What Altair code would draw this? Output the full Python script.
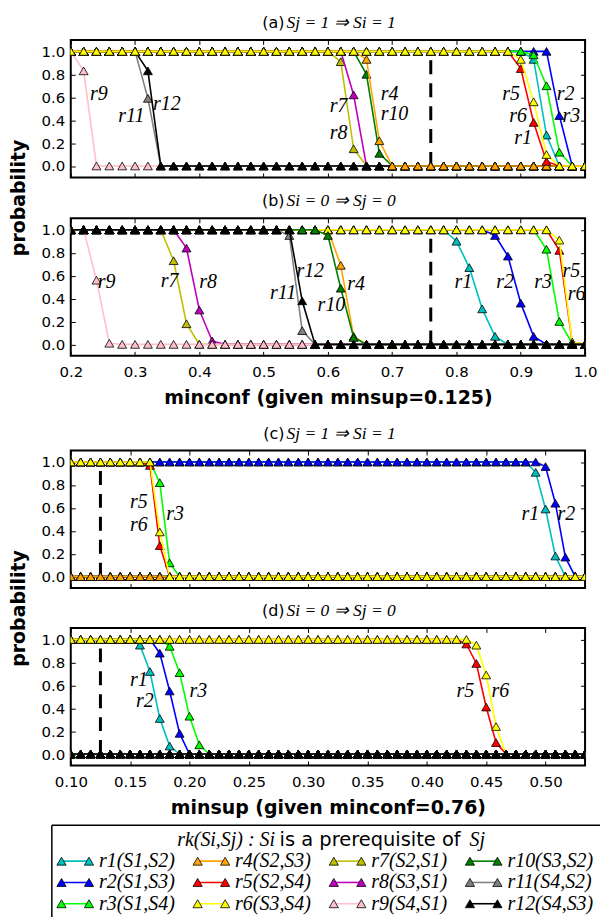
import altair as alt
import pandas as pd

# ---------------- data ----------------
conf_x = [0.20, 0.22, 0.24, 0.26, 0.28, 0.30, 0.32, 0.34, 0.36, 0.38,
          0.40, 0.42, 0.44, 0.46, 0.48, 0.50, 0.52, 0.54, 0.56, 0.58,
          0.60, 0.62, 0.64, 0.66, 0.68, 0.70, 0.72, 0.74, 0.76, 0.78,
          0.80, 0.82, 0.84, 0.86, 0.88, 0.90, 0.92, 0.94, 0.96, 0.98, 1.00]
sup_x = [0.1000, 0.1083, 0.1167, 0.1250, 0.1333, 0.1417, 0.1500, 0.1583, 0.1667, 0.1750,
         0.1833, 0.1917, 0.2000, 0.2083, 0.2167, 0.2250, 0.2333, 0.2417, 0.2500, 0.2583,
         0.2667, 0.2750, 0.2833, 0.2917, 0.3000, 0.3083, 0.3167, 0.3250, 0.3333, 0.3417,
         0.3500, 0.3583, 0.3667, 0.3750, 0.3833, 0.3917, 0.4000, 0.4083, 0.4167, 0.4250,
         0.4333, 0.4417, 0.4500, 0.4583, 0.4667, 0.4750, 0.4833, 0.4917, 0.5000, 0.5083,
         0.5167, 0.5250, 0.5333]

series_names = ["r1", "r2", "r3", "r4", "r5", "r6", "r7", "r8", "r9", "r10", "r11", "r12"]
legend_labels = ["r1(S1,S2)", "r2(S1,S3)", "r3(S1,S4)", "r4(S2,S3)", "r5(S2,S4)", "r6(S3,S4)",
                 "r7(S2,S1)", "r8(S3,S1)", "r9(S4,S1)", "r10(S3,S2)", "r11(S4,S2)", "r12(S4,S3)"]
series_colors = ["#00bfbf", "#0000ff", "#00ff00", "#ffa500", "#ff0000", "#ffff00",
                 "#bfbf00", "#bf00bf", "#ffc0cb", "#008000", "#808080", "#000000"]

# (a) Sj=1 => Si=1, vs minconf
a_r1 = [1, 1, 1, 1, 1, 1, 1, 1, 1, 1, 1, 1, 1, 1, 1, 1, 1, 1, 1, 1,
        1, 1, 1, 1, 1, 1, 1, 1, 1, 1, 1, 1, 1, 1, 1, 1, 0.93, 0.27, 0, 0, 0]
a_r2 = [1, 1, 1, 1, 1, 1, 1, 1, 1, 1, 1, 1, 1, 1, 1, 1, 1, 1, 1, 1,
        1, 1, 1, 1, 1, 1, 1, 1, 1, 1, 1, 1, 1, 1, 1, 1, 1, 1, 0.44, 0, 0]
a_r3 = [1, 1, 1, 1, 1, 1, 1, 1, 1, 1, 1, 1, 1, 1, 1, 1, 1, 1, 1, 1,
        1, 1, 1, 1, 1, 1, 1, 1, 1, 1, 1, 1, 1, 1, 1, 1, 0.97, 0.70, 0.12, 0, 0]
a_r4 = [1, 1, 1, 1, 1, 1, 1, 1, 1, 1, 1, 1, 1, 1, 1, 1, 1, 1, 1, 1,
        1, 1, 1, 0.93, 0.22, 0, 0, 0, 0, 0, 0, 0, 0, 0, 0, 0, 0, 0, 0, 0, 0]
a_r5 = [1, 1, 1, 1, 1, 1, 1, 1, 1, 1, 1, 1, 1, 1, 1, 1, 1, 1, 1, 1,
        1, 1, 1, 1, 1, 1, 1, 1, 1, 1, 1, 1, 1, 1, 1, 0.85, 0.38, 0.04, 0, 0, 0]
a_r6 = [1, 1, 1, 1, 1, 1, 1, 1, 1, 1, 1, 1, 1, 1, 1, 1, 1, 1, 1, 1,
        1, 1, 1, 1, 1, 1, 1, 1, 1, 1, 1, 1, 1, 1, 1, 0.93, 0.56, 0.10, 0, 0, 0]
a_r7 = [1, 1, 1, 1, 1, 1, 1, 1, 1, 1, 1, 1, 1, 1, 1, 1, 1, 1, 1, 1,
        1, 0.91, 0.15, 0, 0, 0, 0, 0, 0, 0, 0, 0, 0, 0, 0, 0, 0, 0, 0, 0, 0]
a_r8 = [1, 1, 1, 1, 1, 1, 1, 1, 1, 1, 1, 1, 1, 1, 1, 1, 1, 1, 1, 1,
        1, 1, 0.62, 0, 0, 0, 0, 0, 0, 0, 0, 0, 0, 0, 0, 0, 0, 0, 0, 0, 0]
a_r9 = [1, 0.83, 0, 0, 0, 0, 0, 0, 0, 0, 0, 0, 0, 0, 0, 0, 0, 0, 0, 0,
        0, 0, 0, 0, 0, 0, 0, 0, 0, 0, 0, 0, 0, 0, 0, 0, 0, 0, 0, 0, 0]
a_r10 = [1, 1, 1, 1, 1, 1, 1, 1, 1, 1, 1, 1, 1, 1, 1, 1, 1, 1, 1, 1,
         1, 1, 1, 0.80, 0.11, 0, 0, 0, 0, 0, 0, 0, 0, 0, 0, 0, 0, 0, 0, 0, 0]
a_r11 = [1, 1, 1, 1, 1, 1, 0.59, 0, 0, 0, 0, 0, 0, 0, 0, 0, 0, 0, 0, 0,
         0, 0, 0, 0, 0, 0, 0, 0, 0, 0, 0, 0, 0, 0, 0, 0, 0, 0, 0, 0, 0]
a_r12 = [1, 1, 1, 1, 1, 1, 0.83, 0, 0, 0, 0, 0, 0, 0, 0, 0, 0, 0, 0, 0,
         0, 0, 0, 0, 0, 0, 0, 0, 0, 0, 0, 0, 0, 0, 0, 0, 0, 0, 0, 0, 0]

# (b) Si=0 => Sj=0, vs minconf
b_r1 = [1, 1, 1, 1, 1, 1, 1, 1, 1, 1, 1, 1, 1, 1, 1, 1, 1, 1, 1, 1,
        1, 1, 1, 1, 1, 1, 1, 1, 1, 1, 0.90, 0.67, 0.31, 0.07, 0, 0, 0, 0, 0, 0, 0]
b_r2 = [1, 1, 1, 1, 1, 1, 1, 1, 1, 1, 1, 1, 1, 1, 1, 1, 1, 1, 1, 1,
        1, 1, 1, 1, 1, 1, 1, 1, 1, 1, 1, 1, 1, 0.95, 0.77, 0.36, 0.07, 0, 0, 0, 0]
b_r3 = [1, 1, 1, 1, 1, 1, 1, 1, 1, 1, 1, 1, 1, 1, 1, 1, 1, 1, 1, 1,
        1, 1, 1, 1, 1, 1, 1, 1, 1, 1, 1, 1, 1, 1, 1, 1, 1, 0.83, 0.20, 0.01, 0]
b_r4 = [1, 1, 1, 1, 1, 1, 1, 1, 1, 1, 1, 1, 1, 1, 1, 1, 1, 1, 1, 1,
        1, 0.69, 0.07, 0, 0, 0, 0, 0, 0, 0, 0, 0, 0, 0, 0, 0, 0, 0, 0, 0, 0]
b_r5 = [1, 1, 1, 1, 1, 1, 1, 1, 1, 1, 1, 1, 1, 1, 1, 1, 1, 1, 1, 1,
        1, 1, 1, 1, 1, 1, 1, 1, 1, 1, 1, 1, 1, 1, 1, 1, 1, 1, 0.82, 0.02, 0]
b_r6 = [1, 1, 1, 1, 1, 1, 1, 1, 1, 1, 1, 1, 1, 1, 1, 1, 1, 1, 1, 1,
        1, 1, 1, 1, 1, 1, 1, 1, 1, 1, 1, 1, 1, 1, 1, 1, 1, 1, 0.91, 0.02, 0]
b_r7 = [1, 1, 1, 1, 1, 1, 1, 1, 0.73, 0.18, 0, 0, 0, 0, 0, 0, 0, 0, 0, 0,
        0, 0, 0, 0, 0, 0, 0, 0, 0, 0, 0, 0, 0, 0, 0, 0, 0, 0, 0, 0, 0]
b_r8 = [1, 1, 1, 1, 1, 1, 1, 1, 1, 0.84, 0.30, 0.03, 0, 0, 0, 0, 0, 0, 0, 0,
        0, 0, 0, 0, 0, 0, 0, 0, 0, 0, 0, 0, 0, 0, 0, 0, 0, 0, 0, 0, 0]
b_r9 = [1, 1, 0.56, 0.01, 0, 0, 0, 0, 0, 0, 0, 0, 0, 0, 0, 0, 0, 0, 0, 0,
        0, 0, 0, 0, 0, 0, 0, 0, 0, 0, 0, 0, 0, 0, 0, 0, 0, 0, 0, 0, 0]
b_r10 = [1, 1, 1, 1, 1, 1, 1, 1, 1, 1, 1, 1, 1, 1, 1, 1, 1, 1, 1, 1,
         0.95, 0.49, 0.06, 0, 0, 0, 0, 0, 0, 0, 0, 0, 0, 0, 0, 0, 0, 0, 0, 0, 0]
b_r11 = [1, 1, 1, 1, 1, 1, 1, 1, 1, 1, 1, 1, 1, 1, 1, 1, 1, 0.95, 0.12, 0,
         0, 0, 0, 0, 0, 0, 0, 0, 0, 0, 0, 0, 0, 0, 0, 0, 0, 0, 0, 0, 0]
b_r12 = [1, 1, 1, 1, 1, 1, 1, 1, 1, 1, 1, 1, 1, 1, 1, 1, 1, 1, 0.38, 0,
         0, 0, 0, 0, 0, 0, 0, 0, 0, 0, 0, 0, 0, 0, 0, 0, 0, 0, 0, 0, 0]

# (c) Sj=1 => Si=1, vs minsup
c_r1 = [1, 1, 1, 1, 1, 1, 1, 1, 1, 1, 1, 1, 1, 1, 1, 1, 1, 1, 1, 1,
        1, 1, 1, 1, 1, 1, 1, 1, 1, 1, 1, 1, 1, 1, 1, 1, 1, 1, 1, 1,
        1, 1, 1, 1, 1, 1, 1, 0.91, 0.59, 0.18, 0, 0, 0]
c_r2 = [1, 1, 1, 1, 1, 1, 1, 1, 1, 1, 1, 1, 1, 1, 1, 1, 1, 1, 1, 1,
        1, 1, 1, 1, 1, 1, 1, 1, 1, 1, 1, 1, 1, 1, 1, 1, 1, 1, 1, 1,
        1, 1, 1, 1, 1, 1, 1, 1, 0.96, 0.64, 0.17, 0, 0]
c_r3 = [1, 1, 1, 1, 1, 1, 1, 1, 1, 0.82, 0.12, 0, 0, 0, 0, 0, 0, 0, 0, 0,
        0, 0, 0, 0, 0, 0, 0, 0, 0, 0, 0, 0, 0, 0, 0, 0, 0, 0, 0, 0,
        0, 0, 0, 0, 0, 0, 0, 0, 0, 0, 0, 0, 0]
c_r5 = [1, 1, 1, 1, 1, 1, 1, 1, 0.97, 0.27, 0, 0, 0, 0, 0, 0, 0, 0, 0, 0,
        0, 0, 0, 0, 0, 0, 0, 0, 0, 0, 0, 0, 0, 0, 0, 0, 0, 0, 0, 0,
        0, 0, 0, 0, 0, 0, 0, 0, 0, 0, 0, 0, 0]
c_r6 = [1, 1, 1, 1, 1, 1, 1, 1, 1, 0.39, 0, 0, 0, 0, 0, 0, 0, 0, 0, 0,
        0, 0, 0, 0, 0, 0, 0, 0, 0, 0, 0, 0, 0, 0, 0, 0, 0, 0, 0, 0,
        0, 0, 0, 0, 0, 0, 0, 0, 0, 0, 0, 0, 0]
sup_flat_zero = [0, 0, 0, 0, 0, 0, 0, 0, 0, 0, 0, 0, 0, 0, 0, 0, 0, 0, 0, 0,
                 0, 0, 0, 0, 0, 0, 0, 0, 0, 0, 0, 0, 0, 0, 0, 0, 0, 0, 0, 0,
                 0, 0, 0, 0, 0, 0, 0, 0, 0, 0, 0, 0, 0]

# (d) Si=0 => Sj=0, vs minsup
d_r1 = [1, 1, 1, 1, 1, 1, 1, 0.95, 0.72, 0.31, 0.07, 0, 0, 0, 0, 0, 0, 0, 0, 0,
        0, 0, 0, 0, 0, 0, 0, 0, 0, 0, 0, 0, 0, 0, 0, 0, 0, 0, 0, 0,
        0, 0, 0, 0, 0, 0, 0, 0, 0, 0, 0, 0, 0]
d_r2 = [1, 1, 1, 1, 1, 1, 1, 1, 1, 0.88, 0.55, 0.18, 0, 0, 0, 0, 0, 0, 0, 0,
        0, 0, 0, 0, 0, 0, 0, 0, 0, 0, 0, 0, 0, 0, 0, 0, 0, 0, 0, 0,
        0, 0, 0, 0, 0, 0, 0, 0, 0, 0, 0, 0, 0]
d_r3 = [1, 1, 1, 1, 1, 1, 1, 1, 1, 1, 0.94, 0.71, 0.33, 0.08, 0, 0, 0, 0, 0, 0,
        0, 0, 0, 0, 0, 0, 0, 0, 0, 0, 0, 0, 0, 0, 0, 0, 0, 0, 0, 0,
        0, 0, 0, 0, 0, 0, 0, 0, 0, 0, 0, 0, 0]
d_r5 = [1, 1, 1, 1, 1, 1, 1, 1, 1, 1, 1, 1, 1, 1, 1, 1, 1, 1, 1, 1,
        1, 1, 1, 1, 1, 1, 1, 1, 1, 1, 1, 1, 1, 1, 1, 1, 1, 1, 1, 1,
        0.96, 0.79, 0.41, 0.10, 0, 0, 0, 0, 0, 0, 0, 0, 0]
d_r6 = [1, 1, 1, 1, 1, 1, 1, 1, 1, 1, 1, 1, 1, 1, 1, 1, 1, 1, 1, 1,
        1, 1, 1, 1, 1, 1, 1, 1, 1, 1, 1, 1, 1, 1, 1, 1, 1, 1, 1, 1,
        1, 0.95, 0.69, 0.24, 0, 0, 0, 0, 0, 0, 0, 0, 0]

panel_a = [a_r1, a_r2, a_r3, a_r4, a_r5, a_r6, a_r7, a_r8, a_r9, a_r10, a_r11, a_r12]
panel_b = [b_r1, b_r2, b_r3, b_r4, b_r5, b_r6, b_r7, b_r8, b_r9, b_r10, b_r11, b_r12]
panel_c = [c_r1, c_r2, c_r3, sup_flat_zero, c_r5, c_r6, sup_flat_zero, sup_flat_zero,
           sup_flat_zero, sup_flat_zero, sup_flat_zero, sup_flat_zero]
panel_d = [d_r1, d_r2, d_r3, sup_flat_zero, d_r5, d_r6, sup_flat_zero, sup_flat_zero,
           sup_flat_zero, sup_flat_zero, sup_flat_zero, sup_flat_zero]

# curve labels (text, x, y in data units)
ann_a_text = ["r9", "r11", "r12", "r7", "r8", "r4", "r10", "r5", "r6", "r1", "r2", "r3"]
ann_a_x = [0.230, 0.274, 0.328, 0.603, 0.603, 0.682, 0.682, 0.871, 0.882, 0.890, 0.956, 0.965]
ann_a_y = [0.63, 0.44, 0.54, 0.52, 0.29, 0.63, 0.45, 0.63, 0.44, 0.24, 0.63, 0.44]
ann_b_text = ["r9", "r7", "r8", "r12", "r11", "r10", "r4", "r1", "r2", "r3", "r5", "r6"]
ann_b_x = [0.242, 0.340, 0.400, 0.551, 0.510, 0.584, 0.630, 0.797, 0.862, 0.921, 0.965, 0.973]
ann_b_y = [0.54, 0.555, 0.54, 0.64, 0.45, 0.34, 0.53, 0.54, 0.54, 0.54, 0.64, 0.44]
ann_c_text = ["r5", "r6", "r3", "r1", "r2"]
ann_c_x = [0.150, 0.150, 0.1804, 0.4797, 0.510]
ann_c_y = [0.65, 0.45, 0.55, 0.55, 0.55]
ann_d_text = ["r1", "r2", "r3", "r5", "r6"]
ann_d_x = [0.150, 0.155, 0.200, 0.425, 0.4545]
ann_d_y = [0.65, 0.46, 0.55, 0.55, 0.55]

conf_ticks = [0.2, 0.3, 0.4, 0.5, 0.6, 0.7, 0.8, 0.9, 1.0]
sup_ticks = [0.10, 0.15, 0.20, 0.25, 0.30, 0.35, 0.40, 0.45, 0.50]
prob_ticks = [0.0, 0.2, 0.4, 0.6, 0.8, 1.0]
minconf_line = [0.76]
minsup_line = [0.125]

# ---------------- drawing ----------------
SANS = "DejaVu Sans"
SERIF = "Liberation Serif"
W, H = 516, 138
order_one = [6, 7, 8, 9, 10, 11, 0, 1, 2, 3, 4, 5]
order_zero = [0, 1, 2, 3, 4, 5, 6, 7, 8, 9, 10, 11]


def make_panel(xv, vals, order, xdom, xticks, xfmt, show_x, xtitle, thr,
               ann_t, ann_x, ann_y, tag, math, ytitle):
    xs = alt.Scale(domain=xdom, nice=False, zero=False)
    ys = alt.Scale(domain=[-0.1, 1.1], nice=False, zero=False)
    thr_df = pd.DataFrame({"t": thr})

    xkw = dict(orient="bottom", values=xticks, format=xfmt, labels=show_x, ticks=False,
               tickSize=0, domain=False, grid=False, labelFont=SANS, labelFontSize=15,
               labelColor="black", labelPadding=9, labelFlush=False, title=None)
    if show_x:
        xkw.update(title=xtitle, titleFont=SANS, titleFontSize=19, titleFontWeight="bold",
                   titleColor="black", titlePadding=9)
    ykw = dict(orient="left", values=prob_ticks, format=".1f", ticks=False, tickSize=0,
               domain=False, grid=False, labelFont=SANS, labelFontSize=15,
               labelColor="black", labelPadding=6, title=None)
    if ytitle:
        ykw.update(title=ytitle, titleFont=SANS, titleFontSize=19, titleFontWeight="bold",
                   titleColor="black", titleX=-52, titleY=158, titleAngle=270,
                   titleAlign="center", titleBaseline="middle")

    layers = [alt.Chart(thr_df).mark_rule(color="black", strokeWidth=3, strokeDash=[14, 9]).encode(
        x=alt.X("t:Q", scale=xs, axis=alt.Axis(**xkw)),
        y=alt.YDatum(0, type="quantitative", scale=ys, axis=alt.Axis(**ykw)),
        y2=alt.datum(1))]

    for i in order:
        df = pd.DataFrame({"x": xv, "y": vals[i]})
        enc = dict(x=alt.X("x:Q", scale=xs, axis=None), y=alt.Y("y:Q", scale=ys, axis=None))
        layers.append(alt.Chart(df).mark_line(color=series_colors[i], strokeWidth=1.6,
                                              clip=True).encode(**enc))
        layers.append(alt.Chart(df).mark_point(shape="triangle-up", size=80, filled=True,
                                               fill=series_colors[i], stroke="black",
                                               strokeWidth=0.8, opacity=1,
                                               clip=True).encode(**enc))

    ann_df = pd.DataFrame({"label": ann_t, "x": ann_x, "y": ann_y})
    layers.append(alt.Chart(ann_df).mark_text(align="left", baseline="middle", font=SERIF,
                                              fontStyle="italic", fontSize=20,
                                              color="black").encode(
        x=alt.X("x:Q", scale=xs, axis=None), y=alt.Y("y:Q", scale=ys, axis=None),
        text="label:N"))

    tk = dict(labels=False, domain=False, ticks=True, tickSize=4.5, tickWidth=1,
              tickColor="black", grid=False, title=None, offset=-4.5)
    layers.append(alt.Chart(thr_df).mark_point(opacity=0).encode(
        x=alt.X("t:Q", scale=xs, axis=alt.Axis(orient="top", values=xticks, **tk)),
        y=alt.YDatum(0, type="quantitative", scale=ys,
                     axis=alt.Axis(orient="right", values=prob_ticks, **tk))))
    layers.append(alt.Chart(thr_df).mark_point(opacity=0).encode(
        x=alt.X("t:Q", scale=xs, axis=alt.Axis(orient="bottom", values=xticks, **tk)),
        y=alt.YDatum(0, type="quantitative", scale=ys,
                     axis=alt.Axis(orient="left", values=prob_ticks, **tk))))

    layers.append(alt.Chart(thr_df).mark_text(align="right", baseline="middle", font=SANS,
                                              fontSize=16, color="black").encode(
        x=alt.value(214.5), y=alt.value(-17), text=alt.value(tag)))
    layers.append(alt.Chart(thr_df).mark_text(align="left", baseline="middle", font=SERIF,
                                              fontStyle="italic", fontSize=17.5,
                                              color="black").encode(
        x=alt.value(216.5), y=alt.value(-17), text=alt.value(math)))

    return alt.layer(*layers).resolve_axis(x="independent", y="independent").properties(
        width=W, height=H)


pa = make_panel(conf_x, panel_a, order_one, [0.2, 1.0], conf_ticks, ".1f", False, "",
                minconf_line, ann_a_text, ann_a_x, ann_a_y, "(a)", "Sj = 1 ⇒ Si = 1", "probability")
pb = make_panel(conf_x, panel_b, order_zero, [0.2, 1.0], conf_ticks, ".1f", True,
                "minconf (given minsup=0.125)", minconf_line, ann_b_text, ann_b_x, ann_b_y,
                "(b)", "Si = 0 ⇒ Sj = 0", "")
pc = make_panel(sup_x, panel_c, order_one, [0.1, 0.5333], sup_ticks, ".2f", False, "",
                minsup_line, ann_c_text, ann_c_x, ann_c_y, "(c)", "Sj = 1 ⇒ Si = 1", "probability")
pdd = make_panel(sup_x, panel_d, order_zero, [0.1, 0.5333], sup_ticks, ".2f", True,
                 "minsup (given minconf=0.76)", minsup_line, ann_d_text, ann_d_x, ann_d_y,
                 "(d)", "Si = 0 ⇒ Sj = 0", "")

# legend
leg_df = pd.DataFrame({"label": legend_labels,
                       "col": [i // 3 for i in range(12)],
                       "row": [i % 3 for i in range(12)]})
lx = alt.Scale(domain=[0, 3], range=[-9.3, 400.5])
ly = alt.Scale(domain=[0, 2], range=[36, 78.7])
cscale = alt.Scale(domain=legend_labels, range=series_colors)
lenc = dict(x=alt.X("col:Q", scale=lx, axis=None), y=alt.Y("row:Q", scale=ly, axis=None))
one = pd.DataFrame({"k": [0]})

leg_layers = [
    alt.Chart(leg_df).mark_tick(orient="horizontal", size=27.6, thickness=1.6, xOffset=13.8,
                                opacity=1).encode(
        color=alt.Color("label:N", scale=cscale, legend=None), **lenc),
    alt.Chart(leg_df).mark_point(shape="triangle-up", size=85, filled=True, stroke="black",
                                 strokeWidth=0.8, opacity=1).encode(
        fill=alt.Fill("label:N", scale=cscale, legend=None), **lenc),
    alt.Chart(leg_df).mark_point(shape="triangle-up", size=85, filled=True, stroke="black",
                                 strokeWidth=0.8, opacity=1, xOffset=27.6).encode(
        fill=alt.Fill("label:N", scale=cscale, legend=None), **lenc),
    alt.Chart(leg_df).mark_text(align="left", baseline="middle", dx=37.6, font=SERIF,
                                fontStyle="italic", fontSize=20, color="black").encode(
        text="label:N", **lenc),
    alt.Chart(one).mark_text(align="right", baseline="middle", font=SERIF, fontStyle="italic",
                             fontSize=20, color="black").encode(
        x=alt.value(205), y=alt.value(14.3), text=alt.value("rk(Si,Sj) : Si")),
    alt.Chart(one).mark_text(align="left", baseline="middle", font=SANS, fontSize=19.5,
                             color="black").encode(
        x=alt.value(209.5), y=alt.value(14.3), text=alt.value("is a prerequisite of")),
    alt.Chart(one).mark_text(align="left", baseline="middle", font=SERIF, fontStyle="italic",
                             fontSize=20, color="black").encode(
        x=alt.value(400), y=alt.value(14.3), text=alt.value("Sj")),
    alt.Chart(one).mark_rule(color="black", strokeWidth=1.5).encode(
        x=alt.value(-19), x2=alt.value(531), y=alt.value(0)),
    alt.Chart(one).mark_rule(color="black", strokeWidth=1.5).encode(
        x=alt.value(-19), y=alt.value(0), y2=alt.value(94)),
]
legend = alt.layer(*leg_layers).properties(width=W, height=94,
                                           view=alt.ViewBackground(stroke="transparent"))


def spacer(h):
    return alt.Chart(one).mark_point(opacity=0).encode(
        x=alt.value(0), y=alt.value(0)).properties(
        width=W, height=h, view=alt.ViewBackground(stroke="transparent"))


chart = alt.vconcat(pa, spacer(41), pb, spacer(95), pc, spacer(40), pdd, spacer(59.3), legend,
                    spacing=0, bounds="flush")
chart = chart.configure_view(stroke="black", strokeWidth=2).properties(
    padding={"left": 9, "top": 11.5, "right": 0, "bottom": 0}, background="white")

chart.save("out.html", embed_options={"renderer": "svg", "actions": False})
